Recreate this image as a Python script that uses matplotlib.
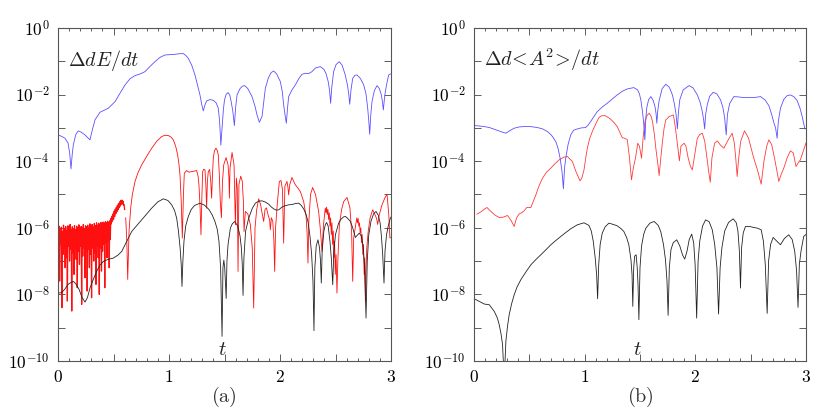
import numpy as np
import matplotlib
matplotlib.use("Agg")
from matplotlib import pyplot as plt
from matplotlib.ticker import MultipleLocator, FixedLocator, FuncFormatter, NullLocator

plt.rcParams['mathtext.fontset'] = 'cm'
plt.rcParams['font.family'] = 'serif'

# all curves are stored as log10 values

# ---- panel (a): Delta dE/dt ----
ta_blue = [0.000, 0.030, 0.063, 0.090, 0.105, 0.117, 0.128, 0.138, 0.160, 0.183,
           0.210, 0.243, 0.270, 0.288, 0.310, 0.333, 0.378, 0.453, 0.514, 0.560,
           0.604, 0.650, 0.694, 0.740, 0.784, 0.830, 0.874, 0.920, 0.964, 1.010,
           1.054, 1.100, 1.129, 1.150, 1.174, 1.205, 1.234, 1.260, 1.279, 1.295,
           1.309, 1.325, 1.339, 1.370, 1.399, 1.425, 1.444, 1.456, 1.467, 1.478,
           1.490, 1.500, 1.515, 1.532, 1.548, 1.560, 1.575, 1.589, 1.600, 1.613,
           1.640, 1.660, 1.682, 1.710, 1.748, 1.775, 1.793, 1.814, 1.838, 1.852,
           1.868, 1.895, 1.920, 1.943, 1.970, 2.003, 2.020, 2.033, 2.045, 2.057,
           2.068, 2.078, 2.108, 2.138, 2.170, 2.198, 2.230, 2.258, 2.288, 2.320,
           2.363, 2.395, 2.414, 2.435, 2.447, 2.456, 2.466, 2.483, 2.505, 2.534,
           2.560, 2.588, 2.608, 2.620, 2.628, 2.640, 2.655, 2.675, 2.694, 2.725,
           2.754, 2.775, 2.790, 2.800, 2.808, 2.818, 2.829, 2.850, 2.874, 2.895,
           2.913, 2.922, 2.931, 2.940, 2.949, 2.965, 2.979, 2.995]
la_blue = [-3.21, -3.25, -3.31, -3.45, -3.75, -4.23, -3.80, -3.51, -3.20, -3.09,
           -3.13, -3.21, -3.30, -3.36, -3.05, -2.76, -2.53, -2.41, -2.21, -1.95,
           -1.71, -1.52, -1.43, -1.38, -1.31, -1.15, -1.01, -0.88, -0.81, -0.80,
           -0.79, -0.77, -0.77, -0.82, -0.91, -1.12, -1.41, -1.75, -2.01, -2.30,
           -2.49, -2.30, -2.19, -2.15, -2.17, -2.25, -2.41, -2.80, -3.52, -3.01,
           -2.45, -2.16, -1.99, -1.94, -2.02, -2.21, -2.50, -2.93, -2.40, -2.01,
           -1.82, -1.75, -1.73, -1.82, -2.06, -2.35, -2.61, -2.83, -2.66, -2.25,
           -1.81, -1.50, -1.34, -1.29, -1.38, -1.61, -1.90, -2.31, -2.60, -2.86,
           -2.40, -2.06, -1.86, -1.71, -1.52, -1.39, -1.36, -1.37, -1.31, -1.20,
           -1.16, -1.24, -1.36, -1.62, -1.90, -2.26, -1.80, -1.31, -1.10, -1.01,
           -1.12, -1.41, -1.72, -2.00, -2.29, -1.85, -1.51, -1.42, -1.41, -1.52,
           -1.71, -1.98, -2.41, -2.80, -3.19, -2.60, -2.21, -1.88, -1.73, -1.82,
           -2.01, -2.20, -2.46, -2.15, -1.91, -1.62, -1.41, -1.38]

# noisy start of the red curve, sampled evenly from t=0 to t=0.6
la_red_noise = [-6.00, -6.70, -5.95, -7.60, -6.05, -6.50, -5.98, -8.40, -6.10, -6.80,
                -5.92, -6.60, -6.02, -7.20, -5.96, -6.90, -6.08, -8.20, -5.94, -6.55,
                -6.00, -7.00, -5.90, -6.65, -6.05, -8.50, -5.97, -6.75, -6.03, -7.40,
                -5.93, -6.60, -6.06, -6.95, -5.95, -7.80, -6.00, -6.70, -5.91, -7.10,
                -6.04, -6.55, -5.96, -8.30, -5.99, -6.85, -5.90, -6.60, -6.02, -7.50,
                -5.94, -6.70, -5.97, -7.90, -5.92, -6.65, -6.00, -7.20, -5.88, -6.80,
                -5.95, -8.10, -5.90, -6.60, -5.98, -7.00, -5.87, -6.75, -5.93, -7.70,
                -5.85, -6.55, -5.92, -6.90, -5.86, -8.00, -5.90, -6.60, -5.84, -7.30,
                -5.88, -6.70, -5.83, -6.50, -5.86, -7.80, -5.82, -6.45, -5.85, -6.90,
                -5.80, -6.40, -5.83, -7.20, -5.79, -6.35,
                -5.72, -5.88, -5.65, -5.80, -5.58, -5.74, -5.50, -5.66, -5.44, -5.58,
                -5.38, -5.52, -5.32, -5.46, -5.27, -5.40, -5.22, -5.35, -5.18, -5.30,
                -5.17, -5.28, -5.20, -5.32, -5.30, -5.45]
ta_red = [0.610, 0.620, 0.628, 0.640, 0.655, 0.670, 0.694, 0.720, 0.754, 0.800,
          0.844, 0.890, 0.934, 0.964, 0.994, 1.020, 1.039, 1.060, 1.078, 1.090,
          1.099, 1.110, 1.120, 1.130, 1.138, 1.159, 1.180, 1.204, 1.225, 1.249,
          1.262, 1.270, 1.280, 1.288, 1.296, 1.303, 1.314, 1.324, 1.332, 1.339,
          1.346, 1.354, 1.366, 1.376, 1.384, 1.392, 1.399, 1.410, 1.423, 1.435,
          1.444, 1.452, 1.462, 1.472, 1.482, 1.493, 1.514, 1.532, 1.540, 1.544,
          1.550, 1.568, 1.586, 1.598, 1.607, 1.615, 1.622, 1.630, 1.646, 1.660,
          1.670, 1.676, 1.688, 1.710, 1.733, 1.750, 1.763, 1.775, 1.790, 1.808,
          1.825, 1.838, 1.853, 1.865, 1.878, 1.893, 1.906, 1.913, 1.922, 1.935,
          1.945, 1.952, 1.960, 1.975, 1.994, 2.009, 2.022, 2.033, 2.044, 2.063,
          2.072, 2.078, 2.088, 2.108, 2.138, 2.160, 2.183, 2.213, 2.235, 2.245,
          2.252, 2.260, 2.275, 2.294, 2.320, 2.348, 2.365, 2.378, 2.392, 2.408,
          2.414, 2.420, 2.426, 2.432, 2.438, 2.444, 2.450, 2.456, 2.462, 2.468,
          2.474, 2.480, 2.486, 2.492, 2.498, 2.505, 2.513, 2.522, 2.535, 2.555,
          2.574, 2.604, 2.630, 2.645, 2.655, 2.664, 2.680, 2.686, 2.692, 2.698,
          2.704, 2.710, 2.716, 2.722, 2.728, 2.734, 2.740, 2.746, 2.752, 2.758,
          2.764, 2.769, 2.775, 2.782, 2.795, 2.812, 2.835, 2.855, 2.870, 2.880,
          2.895, 2.920, 2.945, 2.964, 2.980, 2.990, 3.000]
la_red = [-5.70, -6.40, -7.55, -6.10, -5.40, -5.00, -4.61, -4.35, -4.11, -3.85,
          -3.61, -3.40, -3.26, -3.22, -3.23, -3.28, -3.36, -3.55, -3.81, -4.10,
          -4.41, -5.20, -6.31, -5.00, -4.36, -4.28, -4.33, -4.31, -4.30, -4.28,
          -4.45, -4.71, -5.40, -6.21, -5.10, -4.31, -4.24, -4.26, -4.70, -5.41,
          -4.60, -4.31, -4.25, -4.60, -5.11, -4.40, -3.91, -3.68, -3.61, -3.68,
          -3.81, -4.30, -5.20, -5.70, -4.60, -4.11, -3.89, -4.11, -4.50, -5.11,
          -4.20, -3.74, -4.11, -5.91, -4.51, -4.80, -7.31, -4.70, -4.45, -4.60,
          -5.20, -6.11, -5.51, -5.58, -5.91, -6.60, -8.41, -6.00, -5.45, -5.13,
          -5.30, -5.55, -5.81, -5.45, -5.40, -5.62, -5.75, -6.06, -5.70, -5.80,
          -6.40, -7.31, -6.00, -5.30, -4.61, -4.58, -4.85, -6.46, -4.75, -4.61,
          -4.80, -5.01, -4.70, -4.49, -4.71, -4.80, -4.91, -5.21, -5.65, -6.20,
          -7.06, -5.80, -5.00, -4.79, -5.00, -5.51, -6.10, -6.71, -5.90, -5.41,
          -5.55, -5.38, -5.60, -5.45, -5.75, -5.55, -5.95, -5.70, -6.20, -5.85,
          -6.50, -6.10, -6.90, -6.40, -7.40, -6.80, -7.96, -6.90, -5.91, -5.45,
          -5.21, -5.09, -5.40, -6.10, -7.61, -6.30, -5.95, -5.80, -5.70, -5.85,
          -5.72, -5.95, -5.85, -6.15, -6.00, -6.45, -6.20, -6.80, -6.50, -7.40,
          -6.90, -8.20, -7.20, -6.60, -6.10, -5.70, -5.46, -5.60, -5.72, -5.90,
          -5.60, -5.30, -5.10, -4.99, -5.60, -6.30, -6.30]

ta_black = [0.000, 0.030, 0.060, 0.090, 0.108, 0.138, 0.160, 0.190, 0.215, 0.243,
            0.265, 0.288, 0.318, 0.348, 0.378, 0.408, 0.450, 0.498, 0.540, 0.574,
            0.620, 0.664, 0.710, 0.754, 0.800, 0.844, 0.900, 0.949, 0.990, 1.024,
            1.050, 1.069, 1.085, 1.100, 1.110, 1.117, 1.125, 1.135, 1.150, 1.174,
            1.200, 1.230, 1.279, 1.320, 1.360, 1.390, 1.414, 1.435, 1.450, 1.465,
            1.478, 1.486, 1.494, 1.502, 1.508, 1.515, 1.522, 1.532, 1.553, 1.570,
            1.592, 1.620, 1.640, 1.652, 1.660, 1.667, 1.675, 1.690, 1.718, 1.750,
            1.778, 1.808, 1.838, 1.870, 1.898, 1.920, 1.943, 1.965, 1.988, 2.010,
            2.033, 2.055, 2.078, 2.110, 2.140, 2.168, 2.190, 2.213, 2.235, 2.252,
            2.270, 2.285, 2.297, 2.306, 2.314, 2.326, 2.342, 2.356, 2.365, 2.372,
            2.380, 2.395, 2.408, 2.420, 2.434, 2.450, 2.462, 2.475, 2.485, 2.500,
            2.528, 2.550, 2.574, 2.590, 2.610, 2.634, 2.655, 2.679, 2.697, 2.715,
            2.735, 2.750, 2.762, 2.775, 2.786, 2.800, 2.820, 2.843, 2.865, 2.885,
            2.902, 2.915, 2.925, 2.937, 2.946, 2.960, 2.975, 2.994, 3.000]
la_black = [-7.96, -7.95, -7.85, -7.70, -7.66, -7.61, -7.68, -7.85, -8.08, -8.23,
            -8.10, -7.81, -7.55, -7.31, -7.12, -7.01, -6.95, -6.91, -6.82, -6.71,
            -6.40, -6.11, -5.93, -5.76, -5.58, -5.41, -5.22, -5.13, -5.18, -5.31,
            -5.48, -5.71, -6.10, -6.60, -7.10, -7.76, -7.00, -6.40, -5.95, -5.66,
            -5.45, -5.33, -5.26, -5.32, -5.45, -5.62, -5.81, -6.05, -6.40, -7.20,
            -9.26, -7.20, -6.97, -7.20, -7.60, -8.12, -7.00, -6.50, -6.01, -5.88,
            -5.81, -5.95, -6.25, -6.61, -7.10, -8.03, -6.90, -6.10, -5.71, -5.42,
            -5.26, -5.20, -5.19, -5.23, -5.29, -5.37, -5.43, -5.47, -5.46, -5.40,
            -5.35, -5.33, -5.31, -5.30, -5.27, -5.26, -5.32, -5.43, -5.60, -5.81,
            -6.25, -6.80, -7.60, -9.09, -7.20, -6.55, -6.36, -6.60, -7.00, -7.66,
            -6.70, -6.10, -5.91, -5.84, -5.95, -6.40, -6.90, -7.71, -6.70, -6.20,
            -5.86, -5.74, -5.67, -5.66, -5.72, -5.81, -6.00, -6.29, -6.22, -6.16,
            -6.26, -6.60, -7.20, -8.71, -7.00, -6.20, -5.80, -5.58, -5.51, -5.62,
            -5.85, -6.30, -6.80, -7.66, -6.70, -6.20, -5.95, -5.71, -5.68]

# ---- panel (b): Delta d<A^2>/dt ----
tb_blue = [0.000, 0.040, 0.093, 0.140, 0.183, 0.250, 0.288, 0.330, 0.363, 0.410,
           0.453, 0.510, 0.574, 0.620, 0.664, 0.700, 0.739, 0.760, 0.778, 0.795,
           0.808, 0.818, 0.829, 0.850, 0.874, 0.900, 0.934, 0.970, 1.009, 1.030,
           1.054, 1.085, 1.114, 1.160, 1.204, 1.250, 1.294, 1.340, 1.384, 1.444,
           1.478, 1.495, 1.508, 1.520, 1.529, 1.537, 1.544, 1.553, 1.562, 1.578,
           1.598, 1.620, 1.638, 1.646, 1.652, 1.660, 1.673, 1.700, 1.733, 1.765,
           1.793, 1.812, 1.826, 1.838, 1.848, 1.860, 1.890, 1.943, 1.980, 2.018,
           2.045, 2.062, 2.075, 2.084, 2.093, 2.108, 2.130, 2.162, 2.195, 2.228,
           2.250, 2.265, 2.279, 2.290, 2.310, 2.348, 2.390, 2.438, 2.480, 2.514,
           2.550, 2.589, 2.630, 2.664, 2.690, 2.710, 2.725, 2.739, 2.750, 2.770,
           2.800, 2.830, 2.859, 2.890, 2.920, 2.945, 2.965, 2.990]
lb_blue = [-2.93, -2.94, -2.96, -2.99, -3.04, -3.12, -3.16, -3.07, -3.01, -2.97,
           -2.96, -2.96, -2.99, -3.03, -3.11, -3.22, -3.41, -3.62, -3.91, -4.30,
           -4.83, -4.20, -3.91, -3.50, -3.21, -3.07, -3.03, -3.00, -2.99, -2.92,
           -2.81, -2.65, -2.51, -2.37, -2.26, -2.13, -2.01, -1.90, -1.83, -1.79,
           -1.86, -1.98, -2.17, -2.45, -2.71, -3.00, -3.36, -2.70, -2.38, -2.15,
           -2.06, -2.18, -2.40, -2.60, -2.86, -2.50, -2.18, -1.82, -1.69, -1.78,
           -2.01, -2.30, -2.60, -3.03, -2.50, -2.15, -1.86, -1.73, -1.80, -2.01,
           -2.25, -2.50, -2.75, -3.03, -2.60, -2.30, -2.05, -1.93, -1.98, -2.16,
           -2.40, -2.70, -3.21, -2.60, -2.27, -2.06, -2.07, -2.09, -2.09, -2.09,
           -2.08, -2.06, -2.16, -2.33, -2.60, -2.85, -3.00, -3.31, -2.80, -2.40,
           -2.14, -2.03, -2.01, -2.06, -2.18, -2.40, -2.65, -3.03]

tb_red = [0.027, 0.063, 0.090, 0.117, 0.150, 0.190, 0.228, 0.265, 0.303, 0.335,
          0.363, 0.385, 0.408, 0.430, 0.453, 0.477, 0.514, 0.559, 0.590, 0.619,
          0.655, 0.694, 0.730, 0.769, 0.810, 0.844, 0.889, 0.920, 0.958, 0.975,
          0.994, 1.010, 1.024, 1.045, 1.069, 1.100, 1.129, 1.150, 1.183, 1.220,
          1.260, 1.294, 1.320, 1.339, 1.360, 1.385, 1.405, 1.423, 1.440, 1.459,
          1.480, 1.495, 1.514, 1.528, 1.545, 1.565, 1.583, 1.600, 1.613, 1.630,
          1.643, 1.660, 1.673, 1.688, 1.703, 1.718, 1.733, 1.763, 1.802, 1.818,
          1.835, 1.856, 1.870, 1.898, 1.915, 1.935, 1.955, 1.973, 1.990, 2.018,
          2.040, 2.063, 2.085, 2.105, 2.120, 2.135, 2.150, 2.174, 2.198, 2.228,
          2.258, 2.290, 2.333, 2.352, 2.365, 2.378, 2.392, 2.410, 2.444, 2.480,
          2.528, 2.560, 2.595, 2.620, 2.645, 2.664, 2.690, 2.715, 2.735, 2.754,
          2.775, 2.799, 2.830, 2.859, 2.885, 2.910, 2.930, 2.949, 2.975, 3.000]
lb_red = [-5.59, -5.52, -5.45, -5.39, -5.50, -5.62, -5.69, -5.68, -5.63, -5.78,
          -5.96, -5.70, -5.58, -5.55, -5.49, -5.39, -5.39, -5.01, -4.72, -4.51,
          -4.33, -4.21, -4.08, -3.96, -3.88, -3.86, -4.01, -4.30, -4.59, -4.50,
          -4.26, -3.90, -3.61, -3.32, -3.11, -2.88, -2.69, -2.64, -2.63, -2.70,
          -2.82, -2.96, -3.15, -3.29, -3.31, -3.35, -3.90, -4.56, -4.20, -3.91,
          -3.46, -3.55, -3.91, -3.30, -2.80, -2.62, -2.56, -2.65, -2.81, -3.20,
          -3.61, -4.05, -4.43, -3.90, -3.41, -3.00, -2.76, -2.66, -2.61, -2.95,
          -3.40, -3.99, -3.55, -3.46, -3.55, -3.90, -4.15, -4.26, -3.90, -3.31,
          -3.20, -3.16, -3.40, -3.90, -4.30, -4.63, -3.90, -3.46, -3.39, -3.52,
          -3.61, -3.40, -3.16, -3.45, -3.90, -4.46, -3.90, -3.40, -3.09, -3.30,
          -3.91, -4.25, -4.69, -4.00, -3.55, -3.36, -3.50, -3.90, -4.25, -4.61,
          -4.40, -4.21, -3.90, -3.69, -3.75, -4.16, -4.05, -3.96, -3.70, -3.45]

tb_black = [0.000, 0.048, 0.093, 0.138, 0.183, 0.210, 0.228, 0.245, 0.258, 0.273,
            0.288, 0.303, 0.318, 0.340, 0.363, 0.390, 0.423, 0.470, 0.514, 0.560,
            0.604, 0.650, 0.694, 0.740, 0.784, 0.830, 0.874, 0.934, 0.994, 1.039,
            1.060, 1.078, 1.095, 1.108, 1.117, 1.127, 1.140, 1.159, 1.185, 1.219,
            1.260, 1.294, 1.330, 1.354, 1.380, 1.399, 1.418, 1.428, 1.435, 1.443,
            1.452, 1.465, 1.475, 1.482, 1.490, 1.500, 1.514, 1.533, 1.553, 1.590,
            1.628, 1.665, 1.688, 1.712, 1.730, 1.744, 1.754, 1.765, 1.780, 1.800,
            1.832, 1.860, 1.885, 1.904, 1.925, 1.945, 1.967, 1.985, 1.998, 2.012,
            2.025, 2.040, 2.065, 2.093, 2.125, 2.153, 2.175, 2.195, 2.210, 2.224,
            2.240, 2.265, 2.300, 2.342, 2.370, 2.385, 2.398, 2.408, 2.418, 2.433,
            2.453, 2.490, 2.528, 2.560, 2.595, 2.615, 2.632, 2.649, 2.662, 2.680,
            2.703, 2.730, 2.769, 2.805, 2.844, 2.875, 2.898, 2.915, 2.928, 2.940,
            2.955, 2.979, 3.000]
lb_black = [-8.13, -8.21, -8.29, -8.31, -8.51, -8.70, -8.91, -9.20, -9.51, -10.6,
            -9.41, -8.95, -8.61, -8.28, -8.01, -7.77, -7.56, -7.32, -7.11, -6.95,
            -6.81, -6.66, -6.51, -6.38, -6.26, -6.14, -6.03, -5.91, -5.85, -5.93,
            -6.10, -6.41, -6.90, -7.40, -8.13, -7.10, -6.50, -6.16, -5.97, -5.86,
            -5.90, -5.94, -6.03, -6.11, -6.30, -6.51, -6.95, -7.40, -8.36, -7.20,
            -6.85, -6.81, -7.20, -7.70, -8.76, -7.20, -6.55, -6.20, -6.01, -5.86,
            -5.81, -5.93, -6.12, -6.50, -6.95, -7.60, -8.63, -7.20, -6.65, -6.45,
            -6.36, -6.55, -6.82, -6.94, -6.70, -6.35, -6.19, -6.45, -7.10, -8.71,
            -7.00, -6.40, -5.95, -5.76, -5.82, -6.06, -6.50, -7.20, -8.59, -7.20,
            -6.60, -6.10, -5.84, -5.73, -5.85, -6.10, -6.70, -7.81, -6.60, -6.15,
            -5.96, -5.96, -5.99, -6.01, -6.06, -6.40, -7.10, -8.57, -7.00, -6.50,
            -6.29, -6.38, -6.51, -6.32, -6.21, -6.35, -6.70, -7.30, -8.39, -7.10,
            -6.70, -6.26, -6.20]

blue = '#5b4fff'
red = '#ff1010'
lw = 0.6


def dec_label(v, pos):
    e = int(round(np.log10(v)))
    if e % 2:
        return ''
    return r'$10^{%d}$' % e


def style(ax):
    ax.set_yscale('log')
    ax.set_xlim(0, 3)
    ax.set_ylim(1e-10, 1)
    ax.yaxis.set_major_locator(FixedLocator([10.0**k for k in range(-10, 1)]))
    ax.yaxis.set_major_formatter(FuncFormatter(dec_label))
    ax.yaxis.set_minor_locator(NullLocator())
    ax.xaxis.set_major_locator(MultipleLocator(0.5))
    ax.xaxis.set_minor_locator(MultipleLocator(0.1))
    ax.xaxis.set_major_formatter(FuncFormatter(
        lambda v, p: r'$%d$' % round(v) if abs(v - round(v)) < 1e-6 else ''))
    ax.tick_params(which='both', direction='in', top=True, right=True,
                   color='#444444', width=0.6, labelsize=12.5, pad=6)
    ax.tick_params(which='major', length=5)
    ax.tick_params(which='minor', length=2.5)
    for s in ax.spines.values():
        s.set_color('#555555')
        s.set_linewidth(0.8)


fig = plt.figure(figsize=(8.3, 4.15), dpi=100)
axa = fig.add_axes([58 / 830, 1 - 361 / 415, 333 / 830, 333 / 415])
axb = fig.add_axes([474 / 830, 1 - 361 / 415, 332 / 830, 333 / 415])

t_noise = np.linspace(0, 0.6, len(la_red_noise))
axa.plot(t_noise, 10.0 ** np.array(la_red_noise), color=red, lw=0.9)
axa.plot(ta_red, 10.0 ** np.array(la_red), color=red, lw=lw)
axa.plot(ta_black, 10.0 ** np.array(la_black), color='#222222', lw=lw)
axa.plot(ta_blue, 10.0 ** np.array(la_blue), color=blue, lw=lw)

axb.plot(tb_red, 10.0 ** np.array(lb_red), color='#ff3a3a', lw=lw)
axb.plot(tb_black, 10.0 ** np.array(lb_black), color='#222222', lw=lw)
axb.plot(tb_blue, 10.0 ** np.array(lb_blue), color=blue, lw=lw)

for ax, lab in [(axa, r'$\Delta dE/dt$'),
                (axb, r'$\Delta d\!<\!A^2\!>\!/dt$')]:
    style(ax)
    ax.text(0.03, 0.885, lab, transform=ax.transAxes, fontsize=14.5,
            color='#222222')
    ax.text(1.48, 10.0 ** -9.93, r'$t$', fontsize=15, ha='center',
            va='bottom', color='#222222')

fig.text(224 / 830, 1 - 397 / 415, r'$\mathrm{(a)}$', fontsize=14.5,
         ha='center', va='center', color='#333333')
fig.text(640 / 830, 1 - 397 / 415, r'$\mathrm{(b)}$', fontsize=14.5,
         ha='center', va='center', color='#333333')

fig.savefig('out.png', dpi=100)
